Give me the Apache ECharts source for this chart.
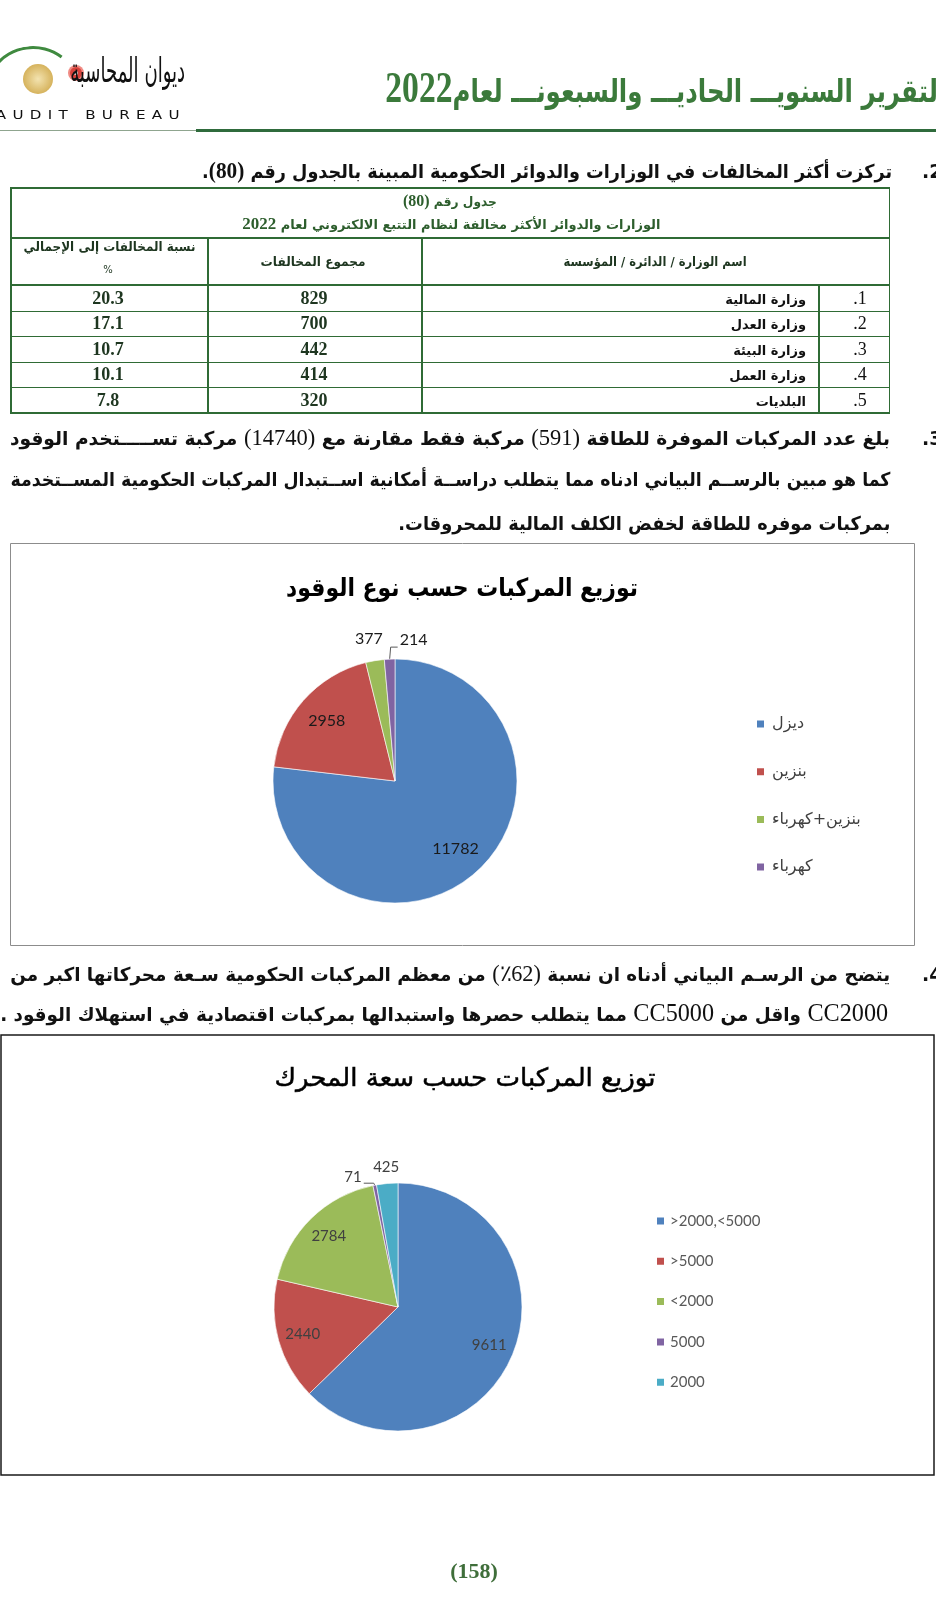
<!DOCTYPE html>
<html lang="ar">
<head>
<meta charset="utf-8">
<title>توزيع المركبات</title>
<script src="https://cdn.jsdelivr.net/npm/echarts@6.0.0/dist/echarts.min.js"></script>
<style>
html,body{margin:0;padding:0;background:#fff;}
#page{position:relative;width:936px;height:1599px;overflow:hidden;background:#fff;}
#chart{position:absolute;left:0;top:0;width:936px;height:1599px;}
.t{position:absolute;white-space:nowrap;direction:rtl;font-family:"DejaVu Sans",sans-serif;color:#111;line-height:1.2;z-index:2;}
.ltr{direction:ltr;}
.num{font-family:"Liberation Serif",serif;}
.ln{position:absolute;z-index:2;}
.dot{position:absolute;z-index:2;border-radius:50%;}
</style>
</head>
<body>
<div id="page"><div id="chart"></div></div>
<script>
// ---------- DATA ----------
const fuelTypes = ['ديزل', 'بنزين', 'بنزين+كهرباء', 'كهرباء'];
const fuelCounts = [11782, 2958, 377, 214];

const engineClasses = ['>2000,<5000', '>5000', '<2000', '5000', '2000'];
const engineCounts = [9611, 2440, 2784, 71, 425];

const tableRanks = ['1.', '2.', '3.', '4.', '5.'];
const tableEntities = ['وزارة المالية', 'وزارة العدل', 'وزارة البيئة', 'وزارة العمل', 'البلديات'];
const tableViolations = [829, 700, 442, 414, 320];
const tablePercent = ['20.3', '17.1', '10.7', '10.1', '7.8'];

// ---------- PAGE TEXT (HTML overlay) ----------
const page = document.getElementById('page');
const SERIF = '"Liberation Serif",serif';
function put(html, o) {
  const d = document.createElement('div');
  d.className = 't' + (o.ltr ? ' ltr' : '');
  d.innerHTML = html;
  d.style.fontSize = o.size + 'px';
  d.style.fontWeight = o.weight || 'normal';
  if (o.color) d.style.color = o.color;
  if (o.family) d.style.fontFamily = o.family;
  if (o.ls) d.style.letterSpacing = o.ls + 'px';
  d.style.left = '0px'; d.style.top = '0px';
  page.appendChild(d);
  const r = d.getBoundingClientRect();
  const w = r.width, h = r.height;
  let s = 1, left;
  if (o.xl != null && o.xr != null) { s = (o.xr - o.xl) / w; left = o.xr - w; d.style.transformOrigin = '100% 50%'; }
  else if (o.xr != null) { left = o.xr - w; }
  else if (o.cx != null) { if (o.w) s = o.w / w; left = o.cx - w / 2; d.style.transformOrigin = '50% 50%'; }
  else { left = o.xl; d.style.transformOrigin = '0 50%'; }
  d.style.left = left + 'px';
  d.style.top = (o.cy - h / 2) + 'px';
  d.style.transform = 'scaleX(' + s + ')';
  return d;
}
function line(x, y, w, h, c) {
  const d = document.createElement('div');
  d.className = 'ln';
  Object.assign(d.style, {left: x + 'px', top: y + 'px', width: w + 'px', height: h + 'px', background: c});
  page.appendChild(d);
}
function dot(cx, cy, r, css) {
  const d = document.createElement('div');
  d.className = 'dot';
  Object.assign(d.style, {left: (cx - r) + 'px', top: (cy - r) + 'px', width: 2 * r + 'px', height: 2 * r + 'px'}, css);
  page.appendChild(d);
}

// header
const HG = '#3b7a3b';
put('التقرير السنويـــ الحاديـــ والسبعونـــ لعام<span class="num" style="font-size:44px;font-weight:bold">2022</span>',
  {xl: 385, xr: 946, cy: 88, size: 32, weight: 'bold', color: HG});
line(0, 130, 200, 1, '#8fa58f');
line(196, 129, 740, 2.5, '#2f6b3c');
// logo
dot(30, 92, 46, {border: '3px solid #3f8a3f', borderBottomColor: 'transparent', borderLeftColor: 'transparent', borderRightColor: 'transparent', background: 'transparent', transform: 'rotate(-8deg)'});
dot(38, 79, 15, {background: 'radial-gradient(circle,#f3e3b0 0,#d6b35d 70%,#a88432 100%)'});
dot(76, 73, 6, {background: '#d8413a', boxShadow: '0 0 0 2px #f08b84'});
dot(76, 73, 2, {background: '#fff'});
put('ديوان المحاسبة', {xl: 70, xr: 185, cy: 70, size: 34, color: '#111'});
put('AUDIT BUREAU', {xl: -4, xr: 186, cy: 115, size: 12, ls: 5, ltr: true, color: '#111'});

// item 2
put('.2', {xl: 922, cy: 171, size: 19, weight: 'bold', ltr: true});
put('تركزت أكثر المخالفات في الوزارات والدوائر الحكومية المبينة بالجدول رقم <span class="num" style="font-size:23px">(80)</span>.',
  {xl: 202, xr: 892, cy: 171, size: 19, weight: 'bold'});

// table
const TG = '#2f6b35', TX = '#1e3620';
const tL = 10, tR = 890, tT = 187, tB = 413, c1 = 207, c2 = 421, c3 = 818, hTitle = 237, hHead = 286;
const rowH = (tB - hHead) / tableEntities.length;
line(tL, tT, tR - tL, 1.5, TG); line(tL, tB - 1, tR - tL, 1.5, TG);
line(tL, tT, 1.5, tB - tT, TG); line(tR - 1.5, tT, 1.5, tB - tT, TG);
line(tL, hTitle, tR - tL, 1.5, TG); line(tL, hHead - 2, tR - tL, 2.2, TG);
for (let i = 1; i < tableEntities.length; i++) line(tL, hHead + i * rowH - 0.6, tR - tL, 1.2, TG);
line(c1, hTitle, 1.5, tB - hTitle, TG); line(c2, hTitle, 1.5, tB - hTitle, TG); line(c3, hHead, 1.5, tB - hHead, TG);
put('جدول رقم <span class="num" style="font-size:17px">(80)</span>', {cx: 450, cy: 201, w: 94, size: 13, weight: 'bold', color: '#2d5e2d'});
put('الوزارات والدوائر الأكثر مخالفة لنظام التتبع الالكتروني لعام <span class="num" style="font-size:17px;font-weight:bold">2022</span>',
  {cx: 451, cy: 224, w: 418, size: 13, weight: 'bold', color: '#2d5e2d'});
put('نسبة المخالفات إلى الإجمالي', {cx: 109, cy: 247, w: 172, size: 13, weight: 'bold', color: TX});
put('%', {cx: 108, cy: 270, size: 10, color: TX});
put('مجموع المخالفات', {cx: 313, cy: 262, w: 105, size: 13, weight: 'bold', color: TX});
put('اسم الوزارة / الدائرة / المؤسسة', {cx: 655, cy: 262, w: 183, size: 13, weight: 'bold', color: TX});
tableEntities.forEach((n, i) => {
  const cy = hHead + rowH * (i + 0.5);
  put(n, {xr: 806, cy: cy + 1, size: 13, weight: 'bold', color: '#111'});
  put(tableRanks[i], {cx: 860, cy: cy, size: 18, family: SERIF, color: '#111'});
  put(String(tableViolations[i]), {cx: 314, cy: cy, size: 18, weight: 'bold', family: SERIF, color: TX});
  put(tablePercent[i], {cx: 108, cy: cy, size: 18, weight: 'bold', family: SERIF, color: TX});
});

// item 3
put('.3', {xl: 922, cy: 438, size: 19, weight: 'bold', ltr: true});
put('بلغ عدد المركبات الموفرة للطاقة <span class="num" style="font-size:23px;font-weight:normal">(591)</span> مركبة فقط مقارنة مع <span class="num" style="font-size:23px;font-weight:normal">(14740)</span> مركبة تســـــتخدم الوقود',
  {xl: 10, xr: 890, cy: 438, size: 19, weight: 'bold'});
put('كما هو مبين بالرســم البياني ادناه مما يتطلب دراســة أمكانية اســتبدال المركبات الحكومية المســتخدمة',
  {xl: 10, xr: 890, cy: 479, size: 19, weight: 'bold'});
put('بمركبات موفره للطاقة لخفض الكلف المالية للمحروقات.',
  {xl: 398, xr: 890, cy: 523, size: 19, weight: 'bold'});

// item 4
put('.4', {xl: 922, cy: 974, size: 19, weight: 'bold', ltr: true});
put('يتضح من الرسـم البياني أدناه ان نسبة <span class="num" style="font-size:23px;font-weight:normal">(62٪)</span> من معظم المركبات الحكومية سـعة محركاتها اكبر من',
  {xl: 10, xr: 890, cy: 974, size: 19, weight: 'bold'});
put('<span class="num" style="font-size:25px;font-weight:normal">CC2000</span> واقل من <span class="num" style="font-size:25px;font-weight:normal">CC5000</span> مما يتطلب حصرها واستبدالها بمركبات اقتصادية في استهلاك الوقود .',
  {xl: 0, xr: 888, cy: 1013, size: 19, weight: 'bold'});

// page number
put('(158)', {cx: 474, cy: 1571, size: 22, weight: 'bold', family: SERIF, color: '#3f6e3a', ltr: true});

// ---------- CHARTS ----------
const OFFICE = ['#4F81BD', '#C0504D', '#9BBB59', '#8064A2', '#4BACC6'];
const LAB = 'Lato, "DejaVu Sans", sans-serif';

function pieSeries(id, names, values, cfg) {
  const total = values.reduce((a, b) => a + b, 0);
  const small = values.map(v => v / total < 0.05);
  const base = {
    type: 'pie', center: cfg.center, startAngle: 90, clockwise: true, silent: true,
    animation: false, avoidLabelOverlap: false, emphasis: {disabled: true}
  };
  const labelStyle = {color: cfg.color, fontSize: cfg.fs, fontFamily: LAB, formatter: p => String(p.value)};
  const main = Object.assign({}, base, {
    name: id, radius: [0, cfg.r], z: 2,
    itemStyle: {borderColor: '#ffffff', borderWidth: 0.6},
    label: Object.assign({show: false, position: 'outside'}, labelStyle),
    labelLine: {show: true, length: 8, length2: 6, smooth: false, lineStyle: {color: '#595959', width: 1}},
    data: names.map((n, i) => ({
      name: n, value: values[i],
      itemStyle: {color: OFFICE[i]},
      label: {show: small[i]},
      labelLine: {show: small[i], lineStyle: {opacity: cfg.leader === i ? 1 : 0}}
    })),
    labelLayout: cfg.layout
  });
  const inner = Object.assign({}, base, {
    name: id + '-labels', radius: [0, cfg.labelR * 2], z: 3,
    itemStyle: {color: 'rgba(0,0,0,0)', borderWidth: 0},
    label: Object.assign({show: true, position: 'inside'}, labelStyle),
    labelLine: {show: false},
    data: names.map((n, i) => ({name: n, value: values[i], label: {show: !small[i]}}))
  });
  return [main, inner];
}

const fuelLayout = function (p) {
  const pts = p.labelLinePoints;
  if (!pts) return;
  const p0 = pts[0];
  if (p.dataIndex === 2) {
    return {x: p0[0] - 6, y: p0[1] - 22, align: 'center', verticalAlign: 'middle', labelLinePoints: [p0, p0, p0]};
  }
  if (p.dataIndex === 3) {
    const p1 = [p0[0] + 1, p0[1] - 12], p2 = [p0[0] + 8, p0[1] - 12];
    return {x: p2[0] + 2, y: p2[1] - 7, align: 'left', verticalAlign: 'middle', labelLinePoints: [p0, p1, p2]};
  }
};
const engineLayout = function (p) {
  const pts = p.labelLinePoints;
  if (!pts) return;
  const p0 = pts[0];
  if (p.dataIndex === 3) {
    const p1 = [p0[0] - 1, p0[1] - 2], p2 = [p0[0] - 11, p0[1] - 2];
    return {x: p2[0] - 2, y: p0[1] - 8, align: 'right', verticalAlign: 'middle', labelLinePoints: [p0, p1, p2]};
  }
  if (p.dataIndex === 4) {
    return {x: p0[0] - 1, y: p0[1] - 16, align: 'center', verticalAlign: 'middle', labelLinePoints: [p0, p0, p0]};
  }
};

// title widths fitted to the reference via canvas measurement
const mctx = document.createElement('canvas').getContext('2d');
function fitScale(text, font, target) { mctx.font = font; return target / mctx.measureText(text).width; }
const T1 = 'توزيع المركبات حسب نوع الوقود', F1 = 'bold 25px "DejaVu Sans"';
const T2 = 'توزيع المركبات حسب سعة المحرك', F2 = '25px "DejaVu Sans"';

const option = {
  backgroundColor: 'transparent',
  animation: false,
  graphic: [
    {type: 'rect', silent: true, shape: {x: 10.5, y: 543.5, width: 904, height: 402}, style: {fill: 'none', stroke: '#8c8c8c', lineWidth: 1}},
    {type: 'rect', silent: true, shape: {x: 1, y: 1035, width: 933, height: 440}, style: {fill: 'none', stroke: '#1a1a1a', lineWidth: 1.5}},
    {type: 'text', silent: true, x: 462, y: 589, scaleX: fitScale(T1, F1, 352),
      style: {text: T1, font: F1, fill: '#000', align: 'center', verticalAlign: 'middle'}},
    {type: 'text', silent: true, x: 465, y: 1079, scaleX: fitScale(T2, F2, 381),
      style: {text: T2, font: F2, fill: '#000', stroke: '#000', lineWidth: 0.5, align: 'center', verticalAlign: 'middle'}}
  ],
  legend: [
    {orient: 'vertical', left: 755, top: 716, padding: 0, icon: 'rect', itemWidth: 9, itemHeight: 9, itemGap: 31.7,
      selectedMode: false, data: fuelTypes,
      textStyle: {fontSize: 16, lineHeight: 16, color: '#404040', fontFamily: '"DejaVu Sans", sans-serif', padding: [0, 0, 0, 2]}},
    {orient: 'vertical', left: 655, top: 1213, padding: 0, icon: 'rect', itemWidth: 9, itemHeight: 9, itemGap: 24.3,
      selectedMode: false, data: engineClasses,
      textStyle: {fontSize: 15, lineHeight: 16, color: '#595959', fontFamily: LAB, padding: [0, 0, 0, 0]}}
  ],
  series: [].concat(
    pieSeries('fuel', fuelTypes, fuelCounts, {center: [395, 781], r: 122, labelR: 88, fs: 16, color: '#1a1a1a', leader: 3, layout: fuelLayout}),
    pieSeries('engine', engineClasses, engineCounts, {center: [398, 1307], r: 124, labelR: 96, fs: 15, color: '#404040', leader: 3, layout: engineLayout})
  )
};

const chart = echarts.init(document.getElementById('chart'), null, {renderer: 'canvas'});
chart.setOption(option);
</script>
</body>
</html>
